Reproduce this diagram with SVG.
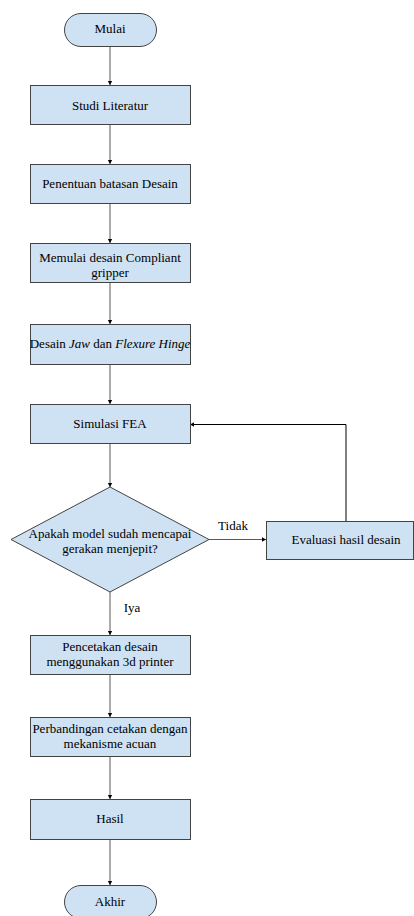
<svg xmlns="http://www.w3.org/2000/svg" width="414" height="916" viewBox="0 0 414 916">
<style>
.n{fill:#cfe2f3;stroke:#434343;stroke-width:1}
.t{font-family:'Liberation Serif','DejaVu Serif',serif;font-size:13px;fill:#000;text-anchor:middle}
.c{fill:none;stroke:#595959;stroke-width:1}
.k{fill:none;stroke:#000;stroke-width:1}
</style>
<defs>
<marker id="a" markerUnits="userSpaceOnUse" markerWidth="6" markerHeight="6" refX="4" refY="3" orient="auto">
<path d="M0,0.8 L4,3 L0,5.2 Z" fill="#000"/>
</marker>
</defs>
<rect width="414" height="916" fill="#fff"/>
<g id="connectors">
<line class="c" x1="110" y1="46" x2="110" y2="85" marker-end="url(#a)"/>
<line class="c" x1="110" y1="124" x2="110" y2="164" marker-end="url(#a)"/>
<line class="c" x1="110" y1="203" x2="110" y2="243" marker-end="url(#a)"/>
<line class="c" x1="110" y1="282" x2="110" y2="324" marker-end="url(#a)"/>
<line class="c" x1="110" y1="364" x2="110" y2="404" marker-end="url(#a)"/>
<line class="c" x1="110" y1="443" x2="110" y2="487" marker-end="url(#a)"/>
<line class="c" x1="209" y1="539.5" x2="266" y2="539.5" marker-end="url(#a)"/>
<polyline class="k" points="346,521 346,424.5 190,424.5" marker-end="url(#a)"/>
<line class="c" x1="110" y1="592" x2="110" y2="635" marker-end="url(#a)"/>
<line class="c" x1="110" y1="674" x2="110" y2="717" marker-end="url(#a)"/>
<line class="c" x1="110" y1="756" x2="110" y2="799" marker-end="url(#a)"/>
<line class="c" x1="110" y1="839" x2="110" y2="885" marker-end="url(#a)"/>
<text class="t" x="233" y="530" font-family="Liberation Serif">Tidak</text>
<text class="t" x="132" y="612" font-family="Liberation Serif">Iya</text>
</g>
<g id="mulai"><rect class="n" x="64.5" y="13.5" width="92" height="33" rx="16.5"/><text class="t" x="110" y="33">Mulai</text></g>
<g id="studi"><rect class="n" x="30.5" y="85.5" width="160" height="39"/><text class="t" x="110" y="110">Studi Literatur</text></g>
<g id="penentuan"><rect class="n" x="30.5" y="164.5" width="160" height="39"/><text class="t" x="110" y="188">Penentuan batasan Desain</text></g>
<g id="memulai"><rect class="n" x="30.5" y="243.5" width="160" height="39"/><text class="t" x="110" y="262">Memulai desain Compliant</text><text class="t" x="110" y="277">gripper</text></g>
<g id="desain"><rect class="n" x="30.5" y="324.5" width="160" height="40"/><text class="t" x="110" y="348">Desain <tspan font-style="italic">Jaw</tspan> dan <tspan font-style="italic">Flexure Hinge</tspan></text></g>
<g id="simulasi"><rect class="n" x="30.5" y="404.5" width="160" height="39"/><text class="t" x="110" y="428">Simulasi FEA</text></g>
<g id="apakah"><polygon class="n" points="110,487 209,539.5 110,592 11,539.5"/><text class="t" x="110" y="538">Apakah model sudah mencapai</text><text class="t" x="110" y="553">gerakan menjepit?</text></g>
<g id="evaluasi"><rect class="n" x="266.5" y="521.5" width="147" height="38"/><text class="t" x="346" y="544">Evaluasi hasil desain</text></g>
<g id="pencetakan"><rect class="n" x="30.5" y="635.5" width="160" height="39"/><text class="t" x="110" y="651">Pencetakan desain</text><text class="t" x="110" y="666">menggunakan 3d printer</text></g>
<g id="perbandingan"><rect class="n" x="30.5" y="717.5" width="160" height="39"/><text class="t" x="110" y="733">Perbandingan cetakan dengan</text><text class="t" x="110" y="748">mekanisme acuan</text></g>
<g id="hasil"><rect class="n" x="30.5" y="799.5" width="160" height="40"/><text class="t" x="110" y="823">Hasil</text></g>
<g id="akhir"><rect class="n" x="64.5" y="885.5" width="92" height="33" rx="16.5"/><text class="t" x="110" y="906">Akhir</text></g>
</svg>
